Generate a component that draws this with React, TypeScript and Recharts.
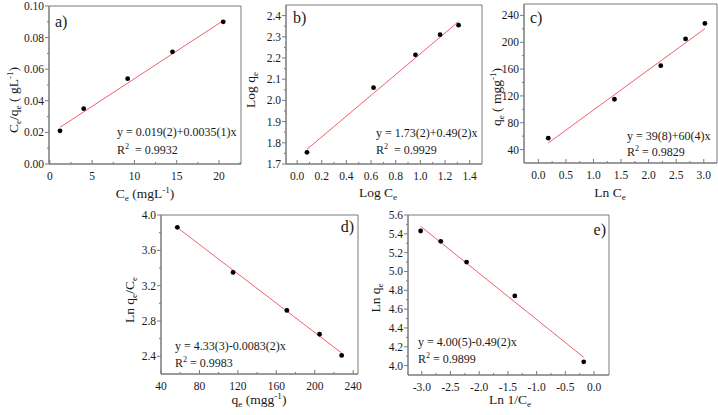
import React from 'react';
import { ScatterChart, Scatter, XAxis, YAxis, ReferenceArea } from 'recharts';

const FONT = '"Liberation Serif", "Times New Roman", Times, serif';
const FRAME = '#7a7a7a';
const FIT = '#f0606f';
const INK = '#1a1a1a';

// a) Ce vs Ce/qe
const aCe = [1.2, 4.0, 9.2, 14.5, 20.5];
const aCeQe = [0.021, 0.035, 0.054, 0.071, 0.09];
// b) Log Ce vs Log qe
const bLogCe = [0.08, 0.62, 0.96, 1.16, 1.31];
const bLogQe = [1.755, 2.06, 2.215, 2.31, 2.355];
// c) Ln Ce vs qe
const cLnCe = [0.18, 1.38, 2.22, 2.67, 3.02];
const cQe = [57, 115, 165, 205, 228];
// d) qe vs Ln qe/Ce
const dQe = [57, 115, 171, 205, 228];
const dLnQeCe = [3.86, 3.35, 2.92, 2.65, 2.41];
// e) Ln 1/Ce vs Ln qe
const eLnInvCe = [-3.02, -2.67, -2.22, -1.38, -0.18];
const eLnQe = [5.43, 5.32, 5.1, 4.74, 4.04];

// fitted lines, as printed on each panel (a..e)
const fitIntercepts = [0.019, 1.73, 39, 4.33, 4.0];
const fitSlopes = [0.0035, 0.49, 60, -0.0083, -0.49];

// tick values
const aXMajor = [0, 5, 10, 15, 20];
const aXMinor = [2.5, 7.5, 12.5, 17.5, 22.5];
const aYMajor = [0, 0.02, 0.04, 0.06, 0.08, 0.1];
const aYMinor = [0.01, 0.03, 0.05, 0.07, 0.09];
const bXMajor = [0, 0.2, 0.4, 0.6, 0.8, 1.0, 1.2, 1.4];
const bXMinor = [0.1, 0.3, 0.5, 0.7, 0.9, 1.1, 1.3];
const bYMajor = [1.7, 1.8, 1.9, 2.0, 2.1, 2.2, 2.3, 2.4];
const bYMinor = [1.75, 1.85, 1.95, 2.05, 2.15, 2.25, 2.35];
const cXMajor = [0, 0.5, 1.0, 1.5, 2.0, 2.5, 3.0];
const cXMinor = [0.25, 0.75, 1.25, 1.75, 2.25, 2.75];
const cYMajor = [40, 80, 120, 160, 200, 240];
const cYMinor = [60, 100, 140, 180, 220];
const dXMajor = [40, 80, 120, 160, 200, 240];
const dXMinor = [60, 100, 140, 180, 220];
const dYMajor = [2.4, 2.8, 3.2, 3.6, 4.0];
const dYMinor = [2.6, 3.0, 3.4, 3.8];
const eXMajor = [-3.0, -2.5, -2.0, -1.5, -1.0, -0.5, 0];
const eXMinor = [-2.75, -2.25, -1.75, -1.25, -0.75, -0.25];
const eYMajor = [4.0, 4.2, 4.4, 4.6, 4.8, 5.0, 5.2, 5.4, 5.6];
const eYMinor = [4.1, 4.3, 4.5, 4.7, 4.9, 5.1, 5.3, 5.5];

const TICK = 11.5;
const TITLE = 13.5;
const EQ = 12;
const txt = { fontFamily: FONT };

const isMajor = (list: number[], v: number) => list.some((m) => Math.abs(m - v) < 1e-9);

const makeXTick = (majors: number[], fmt: (v: number) => string) => (p: any) => {
  const v = p.payload.value;
  const major = isMajor(majors, v);
  return (
    <g>
      <line x1={p.x} x2={p.x} y1={p.y} y2={p.y - (major ? 4 : 2)} stroke={FRAME} />
      {major && (
        <text x={p.x} y={p.y + 16} textAnchor="middle" fontSize={TICK} style={txt} fill={INK}>
          {fmt(v)}
        </text>
      )}
    </g>
  );
};

const makeYTick = (majors: number[], fmt: (v: number) => string) => (p: any) => {
  const v = p.payload.value;
  const major = isMajor(majors, v);
  return (
    <g>
      <line x1={p.x} x2={p.x - (major ? 4 : 2)} y1={p.y} y2={p.y} stroke={FRAME} />
      {major && (
        <text x={p.x - 5} y={p.y + 4} textAnchor="end" fontSize={TICK} style={txt} fill={INK}>
          {fmt(v)}
        </text>
      )}
    </g>
  );
};

interface PanelProps {
  box: [number, number, number, number];
  padL: number;
  xs: number[];
  ys: number[];
  fit: number;
  xDomain: [number, number];
  yDomain: [number, number];
  xMajor: number[];
  xMinor: number[];
  yMajor: number[];
  yMinor: number[];
  xFmt: (v: number) => string;
  yFmt: (v: number) => string;
}

function Panel({ box, padL, xs, ys, fit, xDomain, yDomain, xMajor, xMinor, yMajor, yMinor, xFmt, yFmt }: PanelProps) {
  const [x0, y0, x1, y1] = box;
  const top = 10;
  const right = 6;
  const bottom = 40;
  const points = xs.map((x, i) => ({ x, y: ys[i] }));
  const first = xs[0];
  const last = xs[xs.length - 1];
  const fitLine = [
    { x: first, y: fitIntercepts[fit] + fitSlopes[fit] * first },
    { x: last, y: fitIntercepts[fit] + fitSlopes[fit] * last },
  ];
  return (
    <div style={{ position: 'absolute', left: x0 - padL, top: y0 - top }}>
      <ScatterChart
        width={padL + (x1 - x0) + right}
        height={top + (y1 - y0) + bottom}
        margin={{ top, right, left: 0, bottom: 0 }}
      >
        <XAxis
          type="number"
          dataKey="x"
          domain={xDomain}
          allowDataOverflow
          ticks={[...xMajor, ...xMinor]}
          interval={0}
          height={bottom}
          stroke={FRAME}
          tickSize={0}
          tickMargin={0}
          tickLine={false}
          tick={makeXTick(xMajor, xFmt)}
        />
        <YAxis
          type="number"
          dataKey="y"
          domain={yDomain}
          allowDataOverflow
          ticks={[...yMajor, ...yMinor]}
          interval={0}
          width={padL}
          stroke={FRAME}
          tickSize={0}
          tickMargin={0}
          tickLine={false}
          tick={makeYTick(yMajor, yFmt)}
        />
        <ReferenceArea
          x1={xDomain[0]}
          x2={xDomain[1]}
          y1={yDomain[0]}
          y2={yDomain[1]}
          fill="none"
          stroke={FRAME}
          ifOverflow="visible"
        />
        <Scatter
          data={fitLine}
          fill={FIT}
          line={{ stroke: FIT, strokeWidth: 1 }}
          shape={() => <g />}
          isAnimationActive={false}
        />
        <Scatter
          data={points}
          fill="#000"
          shape={(p: any) => <circle cx={p.cx} cy={p.cy} r={2.4} fill="#000" />}
          isAnimationActive={false}
        />
      </ScatterChart>
    </div>
  );
}

const f0 = (v: number) => v.toFixed(0);
const f1 = (v: number) => v.toFixed(1);
const f2 = (v: number) => v.toFixed(2);

// text pieces: plain, 'sub' or 'sup'
type Seg = [string, ('sub' | 'sup')?];

function Rich({ segs }: { segs: Seg[] }) {
  let cur = 0;
  return (
    <>
      {segs.map(([t, k], i) => {
        const target = k === 'sub' ? 3 : k === 'sup' ? -5 : 0;
        const dy = target - cur;
        cur = target;
        return (
          <tspan key={i} dy={dy !== 0 ? dy : undefined} fontSize={k ? '0.68em' : undefined}>
            {t}
          </tspan>
        );
      })}
    </>
  );
}

function T({ x, y, size, anchor, rotate, segs }: {
  x: number; y: number; size: number; anchor?: 'start' | 'middle' | 'end'; rotate?: boolean; segs: Seg[];
}) {
  const pos = rotate ? { transform: `translate(${x},${y}) rotate(-90)` } : { x, y };
  return (
    <text {...pos} fontSize={size} textAnchor={anchor || 'start'} style={txt} fill={INK}>
      <Rich segs={segs} />
    </text>
  );
}

function Labels() {
  return (
    <svg width={718} height={415} style={{ position: 'absolute', left: 0, top: 0, pointerEvents: 'none' }}>
      {/* a */}
      <T x={55} y={27} size={16} segs={[['a)']]} />
      <T x={145} y={198} size={TITLE} anchor="middle" segs={[['C'], ['e', 'sub'], [' (mgL'], ['-1', 'sup'], [')']]} />
      <T x={18} y={100} size={TITLE} anchor="middle" rotate
        segs={[['C'], ['e', 'sub'], ['/q'], ['e', 'sub'], [' ( gL'], ['-1', 'sup'], [')']]} />
      <T x={117} y={136} size={EQ} segs={[['y = 0.019(2)+0.0035(1)x']]} />
      <T x={117} y={154} size={EQ} segs={[['R'], ['2', 'sup'], ['\u00a0 = 0.9932']]} />
      {/* b */}
      <T x={293} y={23} size={16} segs={[['b)']]} />
      <T x={378} y={197} size={TITLE} anchor="middle" segs={[['Log C'], ['e', 'sub']]} />
      <T x={255} y={90} size={TITLE} anchor="middle" rotate segs={[['Log q'], ['e', 'sub']]} />
      <T x={376} y={137} size={EQ} segs={[['y = 1.73(2)+0.49(2)x']]} />
      <T x={376} y={154} size={EQ} segs={[['R'], ['2', 'sup'], ['\u00a0 = 0.9929']]} />
      {/* c */}
      <T x={530} y={23} size={16} segs={[['c)']]} />
      <T x={610} y={197} size={TITLE} anchor="middle" segs={[['Ln C'], ['e', 'sub']]} />
      <T x={501} y={97} size={TITLE} anchor="middle" rotate
        segs={[['q'], ['e', 'sub'], [' ( mgg'], ['-1', 'sup'], [')']]} />
      <T x={627} y={140} size={EQ} segs={[['y = 39(8)+60(4)x']]} />
      <T x={627} y={156} size={EQ} segs={[['R'], ['2', 'sup'], [' = 0.9829']]} />
      {/* d */}
      <T x={354} y={232} size={16} anchor="end" segs={[['d)']]} />
      <T x={259} y={404} size={TITLE} anchor="middle" segs={[['q'], ['e', 'sub'], [' (mgg'], ['-1', 'sup'], [')']]} />
      <T x={134} y={300} size={TITLE} anchor="middle" rotate segs={[['Ln q'], ['e', 'sub'], ['/C'], ['e', 'sub']]} />
      <T x={175} y={350} size={EQ} segs={[['y = 4.33(3)-0.0083(2)x']]} />
      <T x={175} y={367} size={EQ} segs={[['R'], ['2', 'sup'], [' = 0.9983']]} />
      {/* e */}
      <T x={606} y={235} size={16} anchor="end" segs={[['e)']]} />
      <T x={510} y={404} size={TITLE} anchor="middle" segs={[['Ln 1/C'], ['e', 'sub']]} />
      <T x={380} y={298} size={TITLE} anchor="middle" rotate segs={[['Ln q'], ['e', 'sub']]} />
      <T x={418} y={346} size={EQ} segs={[['y = 4.00(5)-0.49(2)x']]} />
      <T x={418} y={363} size={EQ} segs={[['R'], ['2', 'sup'], [' = 0.9899']]} />
    </svg>
  );
}

export default function App() {
  return (
    <div style={{ position: 'absolute', left: 0, top: 0, width: 718, height: 415, background: '#fff', fontFamily: FONT }}>
      <Panel
        box={[49, 6, 241, 164]}
        padL={49}
        xs={aCe}
        ys={aCeQe}
        fit={0}
        xDomain={[-0.1, 22.6]}
        yDomain={[0, 0.1]}
        xMajor={aXMajor}
        xMinor={aXMinor}
        yMajor={aYMajor}
        yMinor={aYMinor}
        xFmt={f0}
        yFmt={f2}
      />
      <Panel
        box={[286, 5, 482, 164]}
        padL={40}
        xs={bLogCe}
        ys={bLogQe}
        fit={1}
        xDomain={[-0.09, 1.5]}
        yDomain={[1.7, 2.45]}
        xMajor={bXMajor}
        xMinor={bXMinor}
        yMajor={bYMajor}
        yMinor={bYMinor}
        xFmt={f1}
        yFmt={f1}
      />
      <Panel
        box={[524, 4, 717, 163]}
        padL={40}
        xs={cLnCe}
        ys={cQe}
        fit={2}
        xDomain={[-0.26, 3.24]}
        yDomain={[20, 257]}
        xMajor={cXMajor}
        xMinor={cXMinor}
        yMajor={cYMajor}
        yMinor={cYMinor}
        xFmt={f1}
        yFmt={f0}
      />
      <Panel
        box={[161, 215, 358, 374]}
        padL={40}
        xs={dQe}
        ys={dLnQeCe}
        fit={3}
        xDomain={[40, 245]}
        yDomain={[2.2, 4.0]}
        xMajor={dXMajor}
        xMinor={dXMinor}
        yMajor={dYMajor}
        yMinor={dYMinor}
        xFmt={f0}
        yFmt={f1}
      />
      <Panel
        box={[408, 215, 609, 375]}
        padL={40}
        xs={eLnInvCe}
        ys={eLnQe}
        fit={4}
        xDomain={[-3.24, 0.26]}
        yDomain={[3.9, 5.6]}
        xMajor={eXMajor}
        xMinor={eXMinor}
        yMajor={eYMajor}
        yMinor={eYMinor}
        xFmt={f1}
        yFmt={f1}
      />
      <Labels />
    </div>
  );
}
